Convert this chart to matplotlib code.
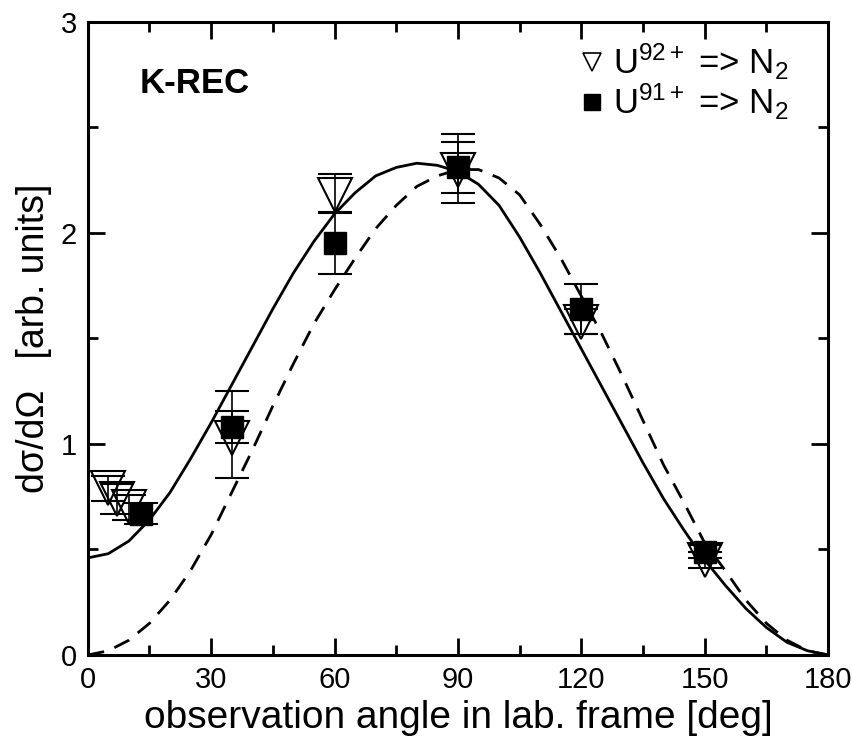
import matplotlib
matplotlib.use("Agg")
import matplotlib.pyplot as plt
from matplotlib.lines import Line2D
from matplotlib.ticker import MultipleLocator

plt.rcParams['font.family'] = ['Liberation Sans', 'DejaVu Sans']
plt.rcParams['mathtext.fontset'] = 'custom'
plt.rcParams['mathtext.rm'] = 'Liberation Sans'
plt.rcParams['mathtext.it'] = 'Liberation Sans'

#theory curves (angle in deg)
curve_angle = [0, 5, 10, 15, 20, 25, 30, 35, 40, 45, 50, 55, 60, 65, 70, 75, 80, 85, 90,
               95, 100, 105, 110, 115, 120, 125, 130, 135, 140, 145, 150, 155, 160, 165, 170, 175, 180]
solid_val = [0.46, 0.48, 0.54, 0.64, 0.77, 0.93, 1.10, 1.28, 1.46, 1.64, 1.81, 1.96, 2.09, 2.19, 2.27, 2.31, 2.33, 2.32, 2.29,
             2.23, 2.13, 1.98, 1.81, 1.63, 1.45, 1.27, 1.09, 0.91, 0.74, 0.59, 0.45, 0.33, 0.22, 0.13, 0.06, 0.02, 0.0]
dashed_val = [0.0, 0.02, 0.07, 0.15, 0.26, 0.40, 0.57, 0.77, 0.97, 1.18, 1.38, 1.57, 1.73, 1.88, 2.02, 2.13, 2.22, 2.27, 2.30,
              2.30, 2.26, 2.18, 2.04, 1.88, 1.70, 1.52, 1.32, 1.11, 0.90, 0.72, 0.53, 0.40, 0.26, 0.15, 0.07, 0.02, 0.0]

#U92+ -> N2 (open triangles)
tri_angle = [5, 7, 10, 35, 60, 90, 120, 150]
tri_val = [0.79, 0.74, 0.70, 1.03, 2.18, 2.30, 1.58, 0.45]
tri_err_lo = [0.06, 0.07, 0.06, 0.19, 0.08, 0.16, 0.06, 0.04]
tri_err_hi = [0.06, 0.07, 0.06, 0.22, 0.10, 0.17, 0.06, 0.04]

#U91+ -> N2 (filled squares)
sq_angle = [13, 35, 60, 90, 120, 150]
sq_val = [0.67, 1.08, 1.95, 2.31, 1.64, 0.49]
sq_err_lo = [0.05, 0.075, 0.145, 0.12, 0.12, 0.03]
sq_err_hi = [0.05, 0.075, 0.145, 0.12, 0.12, 0.03]

fig = plt.figure(figsize=(8.52, 7.52), dpi=100)
ax = fig.add_axes([0.103, 0.129, 0.869, 0.842])

ax.plot(curve_angle, solid_val, color='black', lw=2.0, zorder=2)
ax.plot(curve_angle, dashed_val, color='black', lw=2.0, ls=(0, (6, 4)), zorder=2)

ax.errorbar(tri_angle, tri_val, yerr=[tri_err_lo, tri_err_hi], fmt='v', ms=25, mfc='none', mec='black',
            mew=1.5, ecolor='black', elinewidth=1.2, capsize=12, capthick=1.5, zorder=3)
ax.errorbar(sq_angle, sq_val, yerr=[sq_err_lo, sq_err_hi], fmt='s', ms=16, mfc='black', mec='black',
            ecolor='black', elinewidth=1.2, capsize=12, capthick=1.5, zorder=4)

ax.set_xlim(0, 180)
ax.set_ylim(0, 3)
ax.xaxis.set_major_locator(MultipleLocator(30))
ax.xaxis.set_minor_locator(MultipleLocator(15))
ax.yaxis.set_major_locator(MultipleLocator(1))
ax.yaxis.set_minor_locator(MultipleLocator(0.5))
ax.tick_params(which='both', direction='in', top=True, right=True, width=2, labelsize=21, pad=8)
ax.tick_params(which='major', length=12)
ax.tick_params(which='minor', length=7)
for s in ax.spines.values():
    s.set_linewidth(2.2)

ax.set_xlabel('observation angle in lab. frame [deg]', fontsize=28, labelpad=4)
ax.set_ylabel('d\u03c3/d\u03a9   [arb. units]', fontsize=27, labelpad=6)

ax.text(0.07, 0.888, 'K-REC', transform=ax.transAxes, fontsize=25, fontweight='bold')

handles = [Line2D([], [], marker='v', ls='none', ms=13, mfc='none', mec='black', mew=1.2),
           Line2D([], [], marker='s', ls='none', ms=11, mfc='black', mec='black')]
labels = [r'U$^{92+}$ => N$_2$', r'U$^{91+}$ => N$_2$']
ax.legend(handles, labels, loc='upper right', frameon=False, fontsize=25, handlelength=0.6,
          handletextpad=0.3, labelspacing=0.0, borderaxespad=0.0, bbox_to_anchor=(0.965, 0.99))

plt.savefig('out.png', dpi=100)
